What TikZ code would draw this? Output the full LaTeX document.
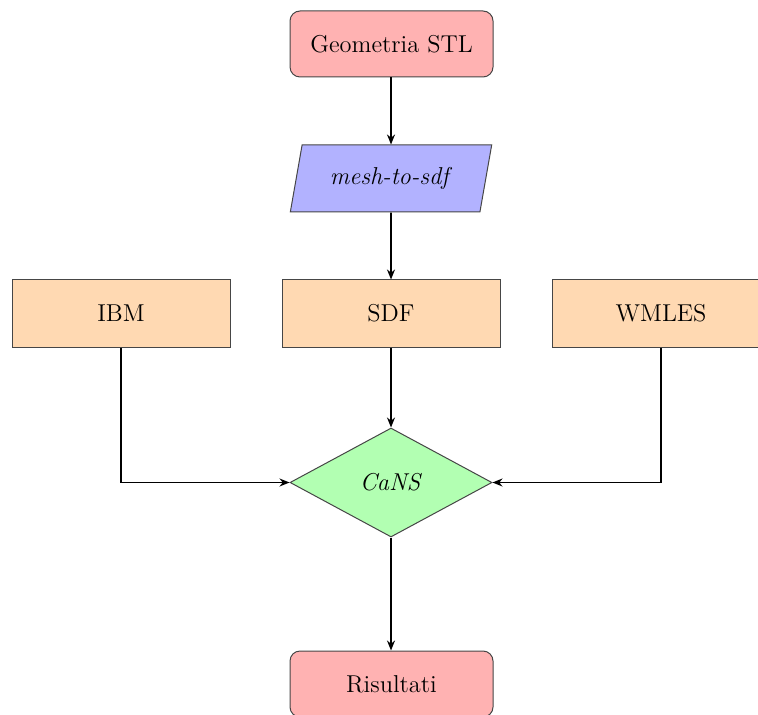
\documentclass[tikz,border=0pt]{standalone}
\usetikzlibrary{shapes.geometric,arrows.meta}
\definecolor{edgegray}{RGB}{70,70,70}
\tikzset{
  base/.style={draw=edgegray, line width=0.5pt, font=\fontsize{12.2}{14}\selectfont, inner sep=2pt, anchor=center},
  startstop/.style={base, rectangle, rounded corners=5pt, minimum width=101.5pt, minimum height=33pt, fill=red!30},
  iobox/.style={base, trapezium, trapezium left angle=74, trapezium right angle=106, trapezium stretches=true, minimum width=101pt, minimum height=33.5pt, fill=blue!30},
  procbox/.style={base, rectangle, minimum width=109pt, minimum height=33.5pt, fill=orange!30},
  decision/.style={base, diamond, aspect=2, minimum width=101pt, minimum height=54.5pt, fill=green!30},
  arrow/.style={line width=0.8pt, -{Stealth[length=5pt,width=4pt]}}
}
\begin{document}
\begin{tikzpicture}[x=0.5pt, y=-0.5pt]
\useasboundingbox (0,0) rectangle (758,715);
\node[startstop] (geo) at (391.5,44) {Geometria STL};
\node[iobox] (mesh) at (391,178.5) {\textit{mesh-to-sdf}};
\node[procbox] (sdf) at (391,313.5) {SDF};
\node[procbox] (ibm) at (121,313.5) {IBM};
\node[procbox] (wmles) at (661,313.5) {WMLES};
\node[decision] (cans) at (391,482.5) {\textit{CaNS}};
\node[startstop] (res) at (391.5,684) {Risultati};
\draw[arrow] (geo.south -| mesh.north) -- (mesh.north);
\draw[arrow] (mesh.south) -- (sdf.north);
\draw[arrow] (sdf.south) -- (cans.north);
\draw[arrow] (ibm.south) |- (cans.west);
\draw[arrow] (wmles.south) |- (cans.east);
\draw[arrow] (cans.south) -- (res.north -| cans.south);
\end{tikzpicture}
\end{document}
